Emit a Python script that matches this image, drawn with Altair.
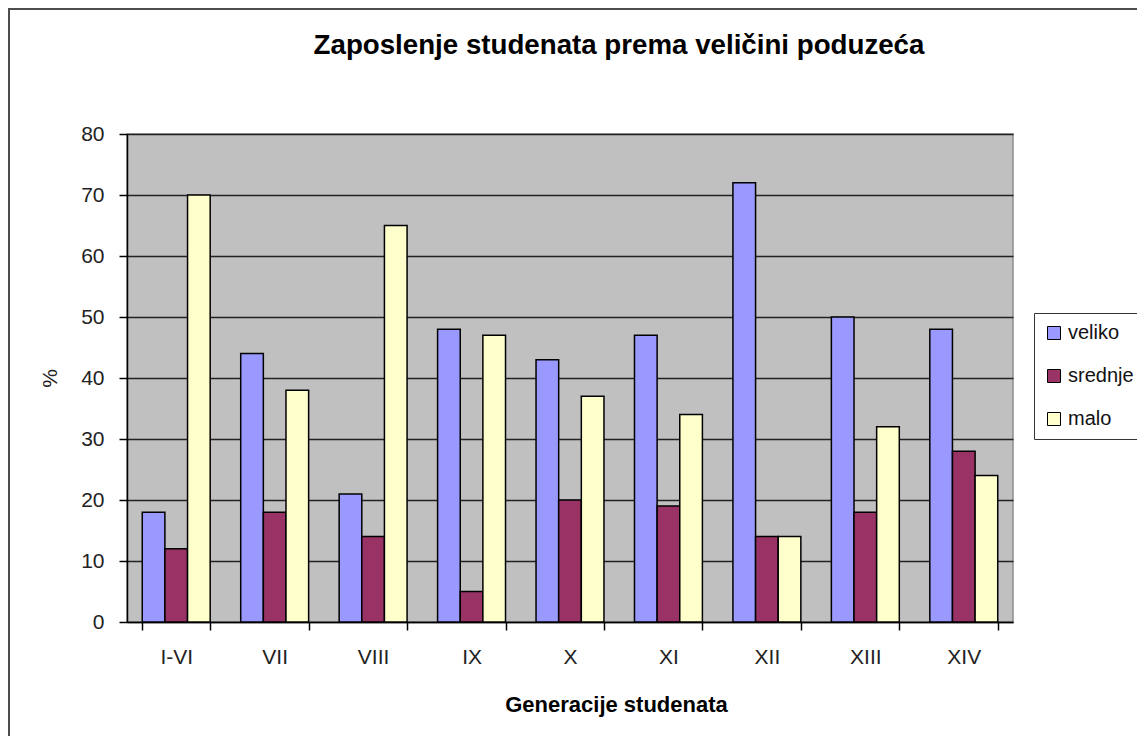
import altair as alt
import pandas as pd

generations = ["I-VI", "VII", "VIII", "IX", "X", "XI", "XII", "XIII", "XIV"]
sizes = ["veliko", "srednje", "malo"]
veliko = [18, 44, 21, 48, 43, 47, 72, 50, 48]
srednje = [12, 18, 14, 5, 20, 19, 14, 18, 28]
malo = [70, 38, 65, 47, 37, 34, 14, 32, 24]
colors = ["#9999FF", "#993366", "#FFFFCC"]
y_ticks = [0, 10, 20, 30, 40, 50, 60, 70, 80]

rows = []
for s, vals in zip(sizes, [veliko, srednje, malo]):
    for g, v in zip(generations, vals):
        rows.append({"gen": g, "size": s, "value": v})
df = pd.DataFrame(rows)

FONT = "Liberation Sans"
W, H = 886, 488

bars = alt.Chart(df).mark_bar(stroke="#000000", strokeWidth=1.5).encode(
    x=alt.X("gen:N", sort=generations,
            scale=alt.Scale(paddingInner=0.31, paddingOuter=0.155),
            axis=alt.Axis(title="Generacije studenata", titleFont=FONT, titleFontSize=22,
                          titleFontWeight="bold", titleColor="#000000",
                          titleX=489, titleY=89, titleBaseline="alphabetic", titleAlign="center",
                          labelAngle=0, labelFont=FONT, labelFontSize=21, labelColor="#222222",
                          labelPadding=16, tickBand="extent", tickSize=8, tickWidth=1.5,
                          tickColor="#000000", domainColor="#000000", domainWidth=1.5)),
    xOffset=alt.XOffset("size:N", sort=sizes, scale=alt.Scale(paddingInner=0, paddingOuter=0)),
    y=alt.Y("value:Q", scale=alt.Scale(domain=[0, 80], nice=False),
            axis=alt.Axis(title="%", values=y_ticks, titleFont=FONT, titleFontSize=21,
                          titleFontWeight="normal", titleColor="#222222",
                          titleX=-77, titleY=244, titleBaseline="middle", titleAlign="center",
                          labelFont=FONT, labelFontSize=21, labelColor="#222222", labelPadding=15,
                          tickSize=8, tickWidth=1.5, tickColor="#000000",
                          domainColor="#000000", domainWidth=1.5,
                          grid=True, gridColor="#222222", gridWidth=1.5)),
    color=alt.Color("size:N", sort=sizes,
                    scale=alt.Scale(domain=sizes, range=colors),
                    legend=alt.Legend(title=None, orient="none", legendX=907, legendY=179,
                                      strokeColor="#333333", fillColor="#FFFFFF", padding=10,
                                      symbolType="square", symbolSize=169,
                                      symbolStrokeColor="#000000", symbolStrokeWidth=1,
                                      symbolOpacity=1,
                                      labelFont=FONT, labelFontSize=20, labelColor="#111111",
                                      labelOffset=4, rowPadding=23)),
)

frame = alt.Chart(pd.DataFrame({"k": [0]})).mark_rect(
    fill="#FFFFFF", fillOpacity=0, stroke="#4d4d4d", strokeWidth=2
).encode(
    x=alt.value(-118), x2=alt.value(W + 300),
    y=alt.value(-125), y2=alt.value(H + 300),
)

chart = alt.layer(frame, bars).properties(
    width=W, height=H,
    autosize=alt.AutoSizeParams(type="none"),
    padding={"left": 119, "top": 126, "right": 124, "bottom": 114},
    title=alt.TitleParams(text="Zaposlenje studenata prema veličini poduzeća",
                          font=FONT, fontSize=27.7, fontWeight="bold", color="#000000",
                          anchor="middle", dx=49, dy=52, offset=0),
).configure(background="#FFFFFF").configure_view(
    fill="#C0C0C0", stroke="#8c8c8c", strokeWidth=1.5
)

chart.save("out.html", embed_options={"renderer": "svg", "actions": False})
